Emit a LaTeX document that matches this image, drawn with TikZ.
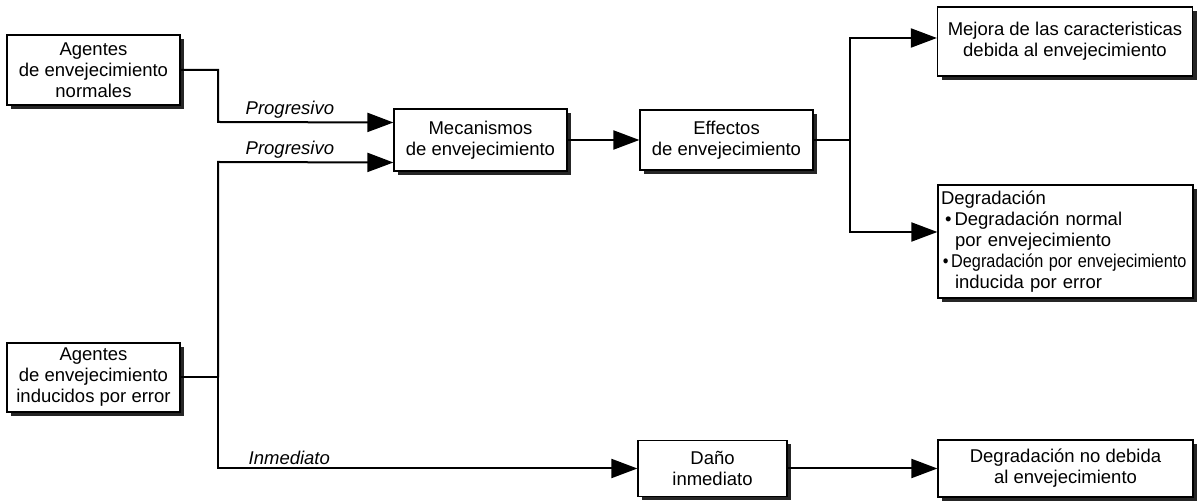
\documentclass[tikz,border=0pt]{standalone}
\usepackage{fontspec}
\usepackage{graphicx}
\setmainfont{Liberation Sans}
\usetikzlibrary{arrows.meta,shadows}
\tikzset{
caja/.style={
	draw, line width=0.6pt, fill=white, align=center, inner sep=1.5pt,
	drop shadow={shadow xshift=2pt, shadow yshift=-2pt, fill=black!85, opacity=1},
	font=\fontsize{9.25}{10.5}\selectfont},
flecha/.style={line width=1pt, -{Triangle[length=13pt,width=9.5pt]}},
linea/.style={line width=1pt},
etiq/.style={above, inner sep=1.5pt, font=\fontsize{9.25}{10.5}\selectfont\itshape}
}

\begin{document}
\begin{tikzpicture}[x=0.5pt, y=-0.5pt]
	\useasboundingbox (0,0) rectangle (1199,501);
	\node[caja, minimum width=86.5pt, minimum height=35pt] (normales) at (93.5,70)
		{Agentes\\de envejecimiento\\normales};
	\node[caja, minimum width=86.5pt, minimum height=34.5pt] (errores) at (93.5,377.5)
		{Agentes\\de envejecimiento\\inducidos por error};
	\node[caja, minimum width=86.5pt, minimum height=31pt] (mecanismos) at (480.5,140)
		{Mecanismos\\de envejecimiento};
	\node[caja, minimum width=86.5pt, minimum height=30pt] (efectos) at (726.5,140)
		{Effectos\\de envejecimiento};
	\node[caja, minimum width=127.5pt, minimum height=34.5pt] (mejora) at (1065,41.5)
		{Mejora de las caracteristicas\\debida al envejecimiento};
	\node[caja, align=left, text width=124.5pt, minimum height=56.5pt] (degradacion) at (1065.5,241.5)
		{Degradación\\
		\hspace*{2pt}\textbullet\,Degradación normal\\
		\hspace*{7pt}por envejecimiento\\
		\scalebox{0.88}[1]{\hspace*{1pt}\textbullet\,Degradación por envejecimiento}\\
		\hspace*{7pt}inducida por error};
	\node[caja, minimum width=74.5pt, minimum height=28pt] (dano) at (712.5,468.5)
		{Daño\\inmediato};
	\node[caja, minimum width=127.5pt, minimum height=28.5pt] (nodebida) at (1065.5,468.5)
		{Degradación no debida\\al envejecimiento};

	\coordinate (bus) at (218,377.5);
	\coordinate (rama) at (850,140);
	\draw[flecha] (normales.east) -| (218,122)
		-- node[etiq, pos=0.41] {Progresivo} ([yshift=8.75pt]mecanismos.west);
	\draw[linea] (errores.east) -- (bus);
	\draw[flecha] (bus) -- (218,162)
		-- node[etiq, pos=0.41] {Progresivo} ([yshift=-11.25pt]mecanismos.west);
	\draw[flecha] (bus) -- (218,468.5)
		-- node[etiq, pos=0.17] {Inmediato} (dano.west);
	\draw[flecha] (mecanismos) -- (efectos);
	\draw[linea] (efectos.east) -- (rama);
	\draw[flecha] (rama) |- ([yshift=1.75pt]mejora.west);
	\draw[flecha] (rama) |- ([yshift=4.75pt]degradacion.west);
	\draw[flecha] (dano) -- (nodebida);
\end{tikzpicture}
\end{document}
